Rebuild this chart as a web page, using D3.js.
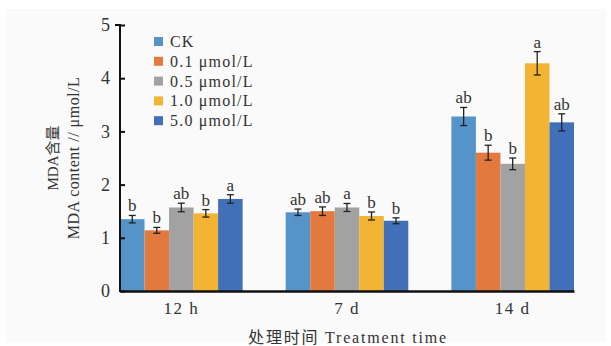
<!DOCTYPE html>
<html><head><meta charset="utf-8">
<script src="https://cdn.jsdelivr.net/npm/d3@7"></script>
<style>body{margin:0;background:#fff}svg{display:block}</style>
</head><body><svg id="c" width="611" height="346"></svg>
<script>
const categories = ["12 h", "7 d", "14 d"];
const seriesNames = ["CK", "0.1 μmol/L", "0.5 μmol/L", "1.0 μmol/L", "5.0 μmol/L"];
const colors = ["#5593c9", "#e2793f", "#a2a2a2", "#f3b333", "#4170b8"];
const values = [
  [1.35, 1.48, 3.28],
  [1.14, 1.50, 2.60],
  [1.57, 1.57, 2.39],
  [1.46, 1.41, 4.28],
  [1.73, 1.32, 3.17]
];
const errors = [
  [0.07, 0.06, 0.17],
  [0.055, 0.08, 0.14],
  [0.08, 0.075, 0.11],
  [0.07, 0.075, 0.22],
  [0.08, 0.055, 0.16]
];
const letters = [
  ["b", "ab", "ab"],
  ["b", "ab", "b"],
  ["ab", "a", "b"],
  ["b", "b", "a"],
  ["a", "b", "ab"]
];
const yTicks = [0, 1, 2, 3, 4, 5];

const svg = d3.select("#c");
svg.append("rect").attr("x", 6).attr("y", 9).attr("width", 600).attr("height", 333).attr("fill", "#fafafa");

const x0 = d3.scaleBand().domain(categories).range([120, 574]).paddingInner(0.26).paddingOuter(0);
const x1 = d3.scaleBand().domain(d3.range(seriesNames.length)).range([0, x0.bandwidth()]).padding(0);
const y = d3.scaleLinear().domain([0, 5]).range([291, 25]);

const serif = "'Liberation Serif','Noto Sans CJK SC',serif";

// bars
const g = svg.append("g");
seriesNames.forEach((s, si) => {
  categories.forEach((c, ci) => {
    const v = values[si][ci], e = errors[si][ci];
    const bx = x0(c) + x1(si), bw = x1.bandwidth();
    g.append("rect").attr("x", bx).attr("y", y(v)).attr("width", bw).attr("height", y(0) - y(v)).attr("fill", colors[si]);
    const cx = bx + bw / 2;
    g.append("line").attr("x1", cx).attr("x2", cx).attr("y1", y(v + e)).attr("y2", y(v - e)).attr("stroke", "#222").attr("stroke-width", 1.3);
    [v + e, v - e].forEach(t => g.append("line").attr("x1", cx - 3.5).attr("x2", cx + 3.5).attr("y1", y(t)).attr("y2", y(t)).attr("stroke", "#222").attr("stroke-width", 1.3));
    g.append("text").attr("x", cx).attr("y", y(v + e) - 4).attr("text-anchor", "middle")
      .attr("font-family", serif).attr("font-size", 17).attr("fill", "#333").text(letters[si][ci]);
  });
});

// y axis
const ya = svg.append("g").attr("transform", "translate(120,0)")
  .call(d3.axisLeft(y).tickValues(yTicks).tickFormat(d3.format("d")).tickSize(-5).tickPadding(10));
ya.select(".domain").attr("stroke", "#111").attr("stroke-width", 2).attr("d", "M-5,25H0V292");
ya.selectAll(".tick line").attr("stroke", "#111").attr("stroke-width", 2);
ya.selectAll(".tick text").attr("font-family", serif).attr("font-size", 18).attr("fill", "#333");

// x axis
const xa = svg.append("g").attr("transform", "translate(0,291)")
  .call(d3.axisBottom(x0).tickSize(0).tickPadding(11));
xa.select(".domain").attr("stroke", "#111").attr("stroke-width", 2.5);
xa.selectAll(".tick text").attr("font-family", serif).attr("font-size", 17).attr("letter-spacing", 1.5).attr("fill", "#333");

// axis titles
svg.append("text").attr("transform", "translate(58,158) rotate(-90)").attr("text-anchor", "middle")
  .attr("font-family", serif).attr("font-size", 15).attr("fill", "#333").text("MDA含量");
svg.append("text").attr("transform", "translate(79,158) rotate(-90)").attr("text-anchor", "middle")
  .attr("font-family", serif).attr("font-size", 16).attr("letter-spacing", 0.5).attr("fill", "#333").text("MDA content // μmol/L");
svg.append("text").attr("x", 348).attr("y", 343).attr("text-anchor", "middle")
  .attr("font-family", serif).attr("font-size", 16).attr("letter-spacing", 1.8).attr("fill", "#333").text("处理时间 Treatment time");

// legend
const lg = svg.append("g").attr("transform", "translate(154,37)");
seriesNames.forEach((s, i) => {
  lg.append("rect").attr("x", 0).attr("y", i * 19.8).attr("width", 9).attr("height", 9).attr("fill", colors[i]);
  lg.append("text").attr("x", 16).attr("y", i * 19.8 + 10).attr("font-family", serif).attr("font-size", 16)
    .attr("letter-spacing", 1.2).attr("fill", "#333").text(s);
});
</script></body></html>
